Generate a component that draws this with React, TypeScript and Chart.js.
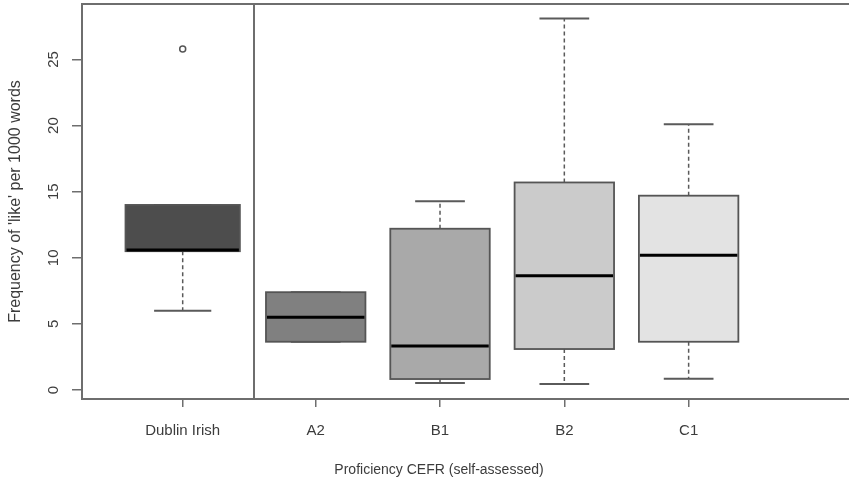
import React, { useEffect, useRef } from "react";
import { Chart, registerables } from "chart.js";

Chart.register(...registerables);

// ---- data ----
const categories = ["Dublin Irish", "A2", "B1", "B2", "C1"];
const whiskerLow = [6.0, 3.65, 0.53, 0.45, 0.86];
const q1 = [10.5, 3.65, 0.83, 3.1, 3.65];
const median = [10.6, 5.5, 3.33, 8.65, 10.2];
const q3 = [14.0, 7.4, 12.2, 15.7, 14.7];
const whiskerHigh = [14.0, 7.4, 14.27, 28.1, 20.1];
const outlierValues: number[][] = [[25.8], [], [], [], []];
const yTickValues = [0, 5, 10, 15, 20, 25];
const yTitle = "Frequency of 'like' per 1000 words";
const xTitle = "Proficiency CEFR (self-assessed)";

// ---- layout / style ----
const positions = [-0.07, 1, 2, 3, 4];
const boxHalf = [0.46, 0.4, 0.4, 0.4, 0.4];
const fills = ["#4d4d4d", "#808080", "#a9a9a9", "#cbcbcb", "#e3e3e3"];
const dividerAt = 0.5;
const X_MIN = -0.88;
const X_MAX = 5.29;
const Y_MIN = -0.68;
const Y_MAX = 29.2;
const AXIS = "#6e6e6e";
const TEXT = "#3c3c3c";
const FONT = "'Liberation Sans', Arial, sans-serif";
const X_TITLE_CENTER = 439;
const X_TITLE_Y = 470;

const boxPlugin = {
  id: "boxplotDraw",
  beforeDatasetsDraw(chart: any) {
    const { ctx, chartArea, scales } = chart;
    const x = scales.x;
    const y = scales.y;
    ctx.save();
    // top frame + divider
    ctx.strokeStyle = AXIS;
    ctx.lineWidth = 2;
    ctx.beginPath();
    ctx.moveTo(chartArea.left, chartArea.top);
    ctx.lineTo(chartArea.right, chartArea.top);
    const dx = Math.round(x.getPixelForValue(dividerAt));
    ctx.moveTo(dx, chartArea.top);
    ctx.lineTo(dx, chartArea.bottom);
    ctx.stroke();

    categories.forEach((_, i) => {
      const cx = x.getPixelForValue(positions[i]);
      const l = x.getPixelForValue(positions[i] - boxHalf[i]);
      const r = x.getPixelForValue(positions[i] + boxHalf[i]);
      const cl = x.getPixelForValue(positions[i] - boxHalf[i] / 2);
      const cr = x.getPixelForValue(positions[i] + boxHalf[i] / 2);
      const yq1 = y.getPixelForValue(q1[i]);
      const yq3 = y.getPixelForValue(q3[i]);
      const ymed = y.getPixelForValue(median[i]);
      const ylo = y.getPixelForValue(whiskerLow[i]);
      const yhi = y.getPixelForValue(whiskerHigh[i]);

      // whiskers (dashed)
      ctx.strokeStyle = "#5a5a5a";
      ctx.lineWidth = 1.5;
      ctx.setLineDash([4, 3]);
      ctx.beginPath();
      ctx.moveTo(cx, yq3);
      ctx.lineTo(cx, yhi);
      ctx.moveTo(cx, yq1);
      ctx.lineTo(cx, ylo);
      ctx.stroke();
      ctx.setLineDash([]);
      // caps
      ctx.lineWidth = 2;
      ctx.beginPath();
      ctx.moveTo(cl, yhi);
      ctx.lineTo(cr, yhi);
      ctx.moveTo(cl, ylo);
      ctx.lineTo(cr, ylo);
      ctx.stroke();
      // box
      ctx.fillStyle = fills[i];
      ctx.fillRect(l, yq3, r - l, yq1 - yq3);
      ctx.strokeStyle = "#555555";
      ctx.lineWidth = 1.8;
      ctx.strokeRect(l, yq3, r - l, yq1 - yq3);
      // median
      ctx.strokeStyle = "#000000";
      ctx.lineWidth = 3;
      ctx.beginPath();
      ctx.moveTo(l + 1, ymed);
      ctx.lineTo(r - 1, ymed);
      ctx.stroke();
    });
    ctx.restore();
  },
  afterDraw(chart: any) {
    const { ctx } = chart;
    ctx.save();
    ctx.fillStyle = TEXT;
    ctx.font = `14px ${FONT}`;
    ctx.textAlign = "center";
    ctx.textBaseline = "middle";
    ctx.fillText(xTitle, X_TITLE_CENTER, X_TITLE_Y);
    ctx.restore();
  },
};

export default function App() {
  const ref = useRef<HTMLCanvasElement | null>(null);

  useEffect(() => {
    if (!ref.current) return;
    const outlierPoints: { x: number; y: number }[] = [];
    outlierValues.forEach((vals, i) =>
      vals.forEach((v) => outlierPoints.push({ x: positions[i], y: v }))
    );
    const chart = new Chart(ref.current, {
      type: "scatter",
      data: {
        datasets: [
          {
            label: "outliers",
            data: outlierPoints,
            pointStyle: "circle",
            pointRadius: 3,
            pointBorderWidth: 1.5,
            pointBorderColor: "#555555",
            pointBackgroundColor: "rgba(0,0,0,0)",
          } as any,
        ],
      },
      options: {
        responsive: false,
        animation: false,
        devicePixelRatio: 1,
        layout: {
          autoPadding: false,
          padding: { top: 4, right: 0, bottom: 0, left: 0 },
        } as any,
        plugins: {
          legend: { display: false },
          tooltip: { enabled: false },
          title: { display: false },
        },
        scales: {
          x: {
            type: "linear",
            min: X_MIN,
            max: X_MAX,
            afterBuildTicks: (axis: any) => {
              axis.ticks = positions.map((v) => ({ value: v }));
            },
            afterFit: (axis: any) => {
              axis.height = 84;
              axis.paddingLeft = 0;
              axis.paddingRight = 0;
            },
            ticks: {
              autoSkip: false,
              maxRotation: 0,
              minRotation: 0,
              padding: 15,
              color: TEXT,
              font: { family: FONT, size: 15 },
              callback: (_v: any, idx: number) => categories[idx],
            },
            grid: {
              drawOnChartArea: false,
              drawTicks: true,
              tickLength: 8,
              color: AXIS,
              lineWidth: 1.5,
            },
            border: { display: true, color: AXIS, width: 2 },
          },
          y: {
            type: "linear",
            min: Y_MIN,
            max: Y_MAX,
            afterBuildTicks: (axis: any) => {
              axis.ticks = yTickValues.map((v) => ({ value: v }));
            },
            afterFit: (axis: any) => {
              axis.width = 82;
              axis.paddingTop = 0;
              axis.paddingBottom = 0;
            },
            ticks: {
              minRotation: 90,
              maxRotation: 90,
              crossAlign: "center",
              padding: 10,
              color: TEXT,
              font: { family: FONT, size: 15 },
              callback: (v: any) => String(v),
            },
            grid: {
              drawOnChartArea: false,
              drawTicks: true,
              tickLength: 10,
              color: AXIS,
              lineWidth: 1.5,
            },
            border: { display: true, color: AXIS, width: 2 },
            title: {
              display: true,
              text: yTitle,
              color: TEXT,
              font: { family: FONT, size: 16 },
              padding: { top: 6, bottom: 0 },
            },
          },
        },
      },
      plugins: [boxPlugin],
    });
    return () => chart.destroy();
  }, []);

  return (
    <div
      style={{
        position: "absolute",
        left: 0,
        top: 0,
        width: 849,
        height: 483,
        background: "#ffffff",
      }}
    >
      <canvas ref={ref} width={849} height={483} style={{ display: "block" }} />
    </div>
  );
}
